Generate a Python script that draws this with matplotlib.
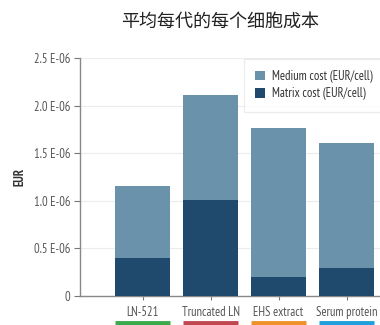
import matplotlib
matplotlib.use('Agg')
import matplotlib.pyplot as plt
import matplotlib.transforms as mtransforms
from matplotlib.ticker import FuncFormatter

categories = ['LN-521', 'Truncated LN', 'EHS extract', 'Serum protein']
matrix_cost = [0.40e-6, 1.01e-6, 0.20e-6, 0.29e-6]
medium_cost = [0.755e-6, 1.10e-6, 1.565e-6, 1.32e-6]
underline_colors = ['#3aaa4a', '#c0474f', '#f0922a', '#1ea0dc']
title = '平均每代的每个细胞成本'

plt.rcParams['font.family'] = ['PT Sans Narrow', 'Open Sans', 'DejaVu Sans']

medium_color = '#6a92ab'
matrix_color = '#1f4a6d'
text_gray = '#555555'

fig = plt.figure(figsize=(3.8, 3.25), dpi=100)
# axes runs a bit past the right edge, like the reference
ax = fig.add_axes([80 / 380, 29 / 325, 325 / 380, 238 / 325])

x = list(range(len(categories)))
ax.bar(x, matrix_cost, width=0.82, color=matrix_color, label='Matrix cost (EUR/cell)', zorder=3)
ax.bar(x, medium_cost, width=0.82, bottom=matrix_cost, color=medium_color,
       label='Medium cost (EUR/cell)', zorder=3)

ax.set_xlim(-0.92, 3.86)
ax.set_ylim(0, 2.5e-6)
ax.set_yticks([0, 0.5e-6, 1.0e-6, 1.5e-6, 2.0e-6, 2.5e-6])


def fmt(v, pos):
    if v == 0:
        return '0'
    return '%.1f E-06' % (v * 1e6)


ax.yaxis.set_major_formatter(FuncFormatter(fmt))
ax.set_xticks(x)
ax.set_xticklabels(categories)
ax.tick_params(axis='both', colors='#777777', labelcolor=text_gray, labelsize=9)
ax.tick_params(axis='y', length=4, width=0.8, pad=3)
ax.tick_params(axis='x', length=3, width=0.8, pad=4)

ax.grid(axis='y', color='#ececec', linewidth=0.8, zorder=0)
for side in ['top', 'right']:
    ax.spines[side].set_visible(False)
for side in ['left', 'bottom']:
    ax.spines[side].set_color('#888888')
    ax.spines[side].set_linewidth(1.0)

ax.set_ylabel('EUR', fontsize=9, fontweight='bold', color='#333333', labelpad=5)

# coloured bars under the category labels
trans = mtransforms.blended_transform_factory(ax.transData, ax.transAxes)
for xi, c in zip(x, underline_colors):
    ax.plot([xi - 0.41, xi + 0.41], [-0.115, -0.115], color=c, linewidth=3.5,
            transform=trans, clip_on=False, solid_capstyle='butt')

handles, labels = ax.get_legend_handles_labels()
leg = ax.legend(handles[::-1], labels[::-1], loc='upper left', bbox_to_anchor=(0.505, 0.997),
                fontsize=9, frameon=True, fancybox=False, handlelength=0.75, handleheight=0.75,
                borderpad=0.9, labelspacing=0.35, handletextpad=0.6, borderaxespad=0)
leg.get_frame().set_edgecolor('#e6e6e6')
leg.get_frame().set_linewidth(0.8)
for t in leg.get_texts():
    t.set_color('#333333')

fig.text(220 / 380, 1 - 22 / 325, title, ha='center', va='center', fontsize=13,
         color='#222222', family=['Noto Sans CJK SC', 'DejaVu Sans'])

fig.savefig('out.png', dpi=100)
